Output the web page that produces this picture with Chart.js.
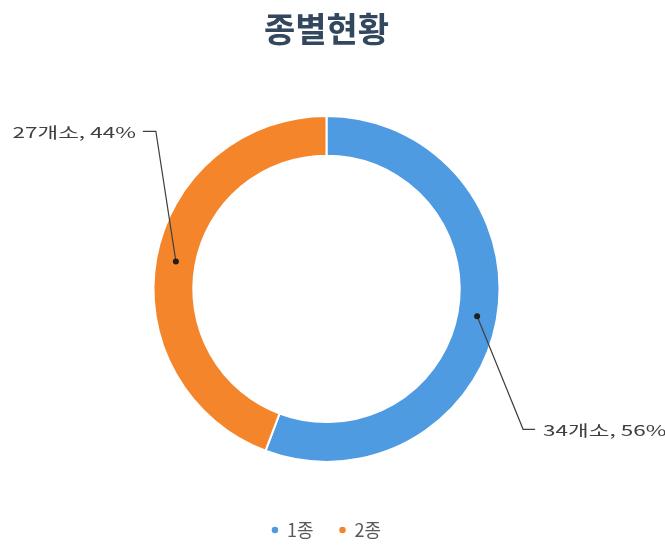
<!DOCTYPE html>
<html lang="ko">
<head>
<meta charset="utf-8">
<script src="https://cdn.jsdelivr.net/npm/chart.js@4/dist/chart.umd.min.js"></script>
<style>
  html, body { margin: 0; padding: 0; background: #fff; }
  #wrap { width: 665px; height: 556px; }
</style>
</head>
<body>
<div id="wrap"><canvas id="chart"></canvas></div>
<script>
// 종별현황 data
const categories = ['1종', '2종'];
const counts = [34, 27];
const colors = ['#4f9be1', '#f5852b'];

const FONT = '"Noto Sans CJK KR", "Noto Sans", sans-serif';

// leader-line labels: "N개소, P%"
const leaderLabels = {
  id: 'leaderLabels',
  afterDraw(chart) {
    const ctx = chart.ctx;
    const meta = chart.getDatasetMeta(0);
    const total = counts.reduce((a, b) => a + b, 0);
    meta.data.forEach((arc, i) => {
      const mid = (arc.startAngle + arc.endAngle) / 2;
      const r = (arc.innerRadius + arc.outerRadius) / 2;
      const px = arc.x + Math.cos(mid) * r;
      const py = arc.y + Math.sin(mid) * r;
      const pct = Math.round(counts[i] / total * 100);
      const text = `${counts[i]}개소, ${pct}%`;
      const right = Math.cos(mid) > 0;
      // elbow point for the leader line
      const ex = right ? px + 46 : px - 20;
      const ey = right ? py + 113 : py - 130;
      const hx = right ? ex + 12 : ex - 13;

      ctx.save();
      ctx.strokeStyle = '#404040';
      ctx.lineWidth = 1.2;
      ctx.beginPath();
      ctx.moveTo(px, py);
      ctx.lineTo(ex, ey);
      ctx.lineTo(hx, ey);
      ctx.stroke();
      ctx.fillStyle = '#1f1f1f';
      ctx.beginPath();
      ctx.arc(px, py, 3, 0, Math.PI * 2);
      ctx.fill();
      ctx.font = `15px ${FONT}`;
      ctx.fillStyle = '#404040';
      ctx.textBaseline = 'middle';
      ctx.textAlign = right ? 'left' : 'right';
      ctx.translate(right ? hx + 8 : hx - 7, ey + 1);
      ctx.scale(1.5, 1);
      ctx.fillText(text, 0, 0);
      ctx.restore();
    });
  }
};

new Chart(document.getElementById('chart'), {
  type: 'doughnut',
  data: {
    labels: categories,
    datasets: [{
      data: counts,
      backgroundColor: colors,
      borderColor: '#ffffff',
      borderWidth: 2,
      hoverOffset: 0,
      radius: 173
    }]
  },
  options: {
    responsive: true,
    maintainAspectRatio: false,
    animation: false,
    cutout: '77%',
    layout: { padding: { right: 12, bottom: 7 } },
    plugins: {
      title: {
        display: true,
        text: '종별현황',
        color: '#33475f',
        font: { family: FONT, size: 34, weight: 'bold' },
        padding: { top: 9, bottom: 33 }
      },
      legend: {
        position: 'bottom',
        labels: {
          color: '#595959',
          font: { family: FONT, size: 18 },
          usePointStyle: true,
          pointStyle: 'circle',
          boxWidth: 6,
          boxHeight: 6,
          padding: 26
        }
      },
      tooltip: { enabled: false }
    }
  },
  plugins: [leaderLabels]
});
</script>
</body>
</html>
